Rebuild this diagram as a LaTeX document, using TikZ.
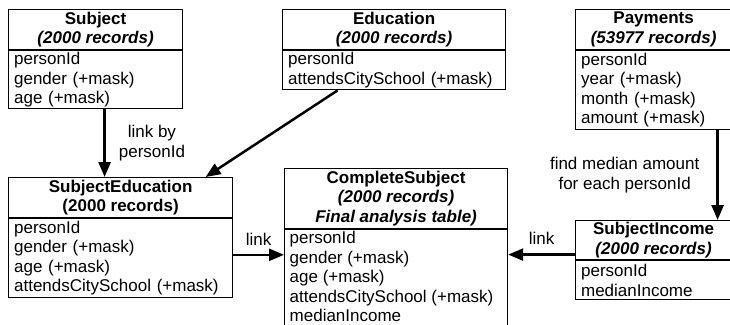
\documentclass[tikz,border=0pt]{standalone}
\usepackage{fontspec}
\setmainfont{Liberation Sans}
\usetikzlibrary{arrows.meta,calc}
\begin{document}
\begin{tikzpicture}[x=1pt,y=-1pt,
  every node/.style={font=\fontsize{17}{19.5}\selectfont},
  hdr/.style={draw,line width=1.2pt,anchor=north west,inner sep=0pt,align=center,
    font=\fontsize{17}{19.5}\selectfont\bfseries},
  bdy/.style={draw,line width=1.2pt,anchor=north west,inner xsep=5.5pt,inner ysep=0pt,align=left},
  arr/.style={line width=2.5pt,-{Triangle[length=15pt,width=12pt]}},
  lbl/.style={align=center,inner sep=0pt}]
\useasboundingbox (0,0) rectangle (730,324);
\clip (0,0) rectangle (730,324);

% Subject
\node[hdr,minimum width=174pt,minimum height=40pt] (subjH) at (8,9) {Subject\\\textit{(2000 records)}};
\node[bdy,text width=163pt,minimum height=58pt] (subjB) at (subjH.south west) {personId\\gender (+mask)\\age (+mask)};

% Education
\node[hdr,minimum width=223pt,minimum height=40pt] (eduH) at (282,9) {Education\\\textit{(2000 records)}};
\node[bdy,text width=212pt,minimum height=39pt] (eduB) at (eduH.south west) {personId\\attendsCitySchool (+mask)};

% Payments
\node[hdr,minimum width=156pt,minimum height=40pt] (payH) at (575,9) {Payments\\\textit{(53977 records)}};
\node[bdy,text width=145pt,minimum height=79pt] (payB) at (payH.south west) {personId\\year (+mask)\\month (+mask)\\amount (+mask)};

% SubjectEducation
\node[hdr,minimum width=224pt,minimum height=40pt] (seH) at (8,177) {SubjectEducation\\(2000 records)};
\node[bdy,text width=213pt,minimum height=79pt] (seB) at (seH.south west) {personId\\gender (+mask)\\age (+mask)\\attendsCitySchool (+mask)};

% CompleteSubject
\node[hdr,minimum width=223pt,minimum height=60pt] (csH) at (284,168) {CompleteSubject\\\textit{(2000 records)}\\\textit{Final analysis table)}};
\node[bdy,minimum width=223pt,minimum height=104pt] (csB) at (csH.south west) {};
\node[anchor=north west,inner xsep=5.5pt,inner ysep=2pt,align=left] (csT) at (csB.north west)
  {personId\\gender (+mask)\\age (+mask)\\attendsCitySchool (+mask)\\medianIncome};

% SubjectIncome
\node[hdr,minimum width=156pt,minimum height=39pt] (siH) at (575,220) {SubjectIncome\\\textit{(2000 records)}};
\node[bdy,text width=145pt,minimum height=39pt] (siB) at (siH.south west) {personId\\medianIncome};

% connectors
\draw[arr] ([xshift=9pt]subjB.south) -- ([xshift=9pt]subjB.south |- seH.north)
  node[lbl,pos=0.5,right=13pt] {link by\\personId};
\draw[arr] ([xshift=-56.5pt]eduB.south) -- ([xshift=85pt]seH.north);
\draw[arr] ([yshift=3.5pt]seB.east) -- ([yshift=3.5pt]seB.east -| csB.west)
  node[lbl,midway,above=8pt] {link};
\draw[arr] ([yshift=-14.5pt]siH.west) -- ([yshift=-14.5pt]siH.west -| csB.east)
  node[lbl,midway,above=9pt] {link};
\draw[arr] ([xshift=64pt]payB.south) -- ([xshift=64pt]payB.south |- siH.north)
  node[lbl,midway,left=17pt] {find median amount\\for each personId};
\end{tikzpicture}
\end{document}
